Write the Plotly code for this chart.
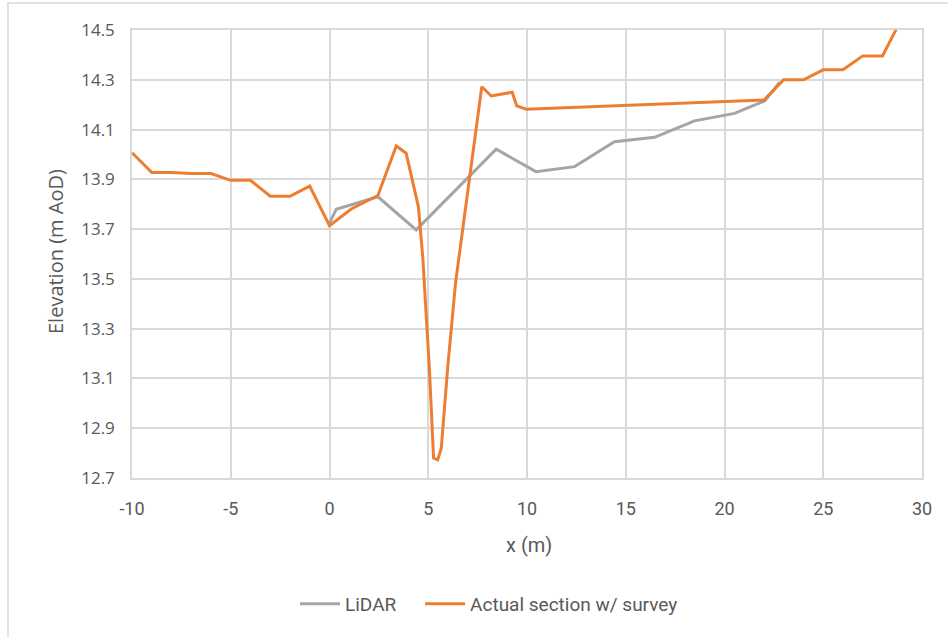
import plotly.graph_objects as go

# LiDAR section
lidar_x = [0.0, 0.34, 2.45, 4.39, 8.44, 10.45, 12.41, 14.43, 16.46, 18.48, 20.51, 22.03, 22.8]
lidar_y = [13.724, 13.78, 13.83, 13.697, 14.021, 13.931, 13.951, 14.051, 14.069, 14.135, 14.165, 14.215, 14.29]

# Actual section with survey
survey_x = [-10.0, -9.0, -8.0, -7.0, -6.0, -5.0, -4.0, -3.0, -2.0, -1.0, 0.0, 1.1, 2.45,
            3.38, 3.88, 4.5, 4.72, 5.06, 5.27, 5.48, 5.66, 5.99, 6.38, 7.71, 8.19, 9.25,
            9.48, 9.96, 22.0, 23.0, 24.0, 25.0, 26.0, 27.0, 28.0, 29.0]
survey_y = [14.007, 13.927, 13.927, 13.923, 13.923, 13.896, 13.896, 13.832, 13.832, 13.873,
            13.714, 13.781, 13.835, 14.034, 14.005, 13.79, 13.59, 13.135, 12.78, 12.773,
            12.82, 13.148, 13.483, 14.272, 14.235, 14.25, 14.195, 14.182, 14.219, 14.30,
            14.30, 14.34, 14.34, 14.396, 14.396, 14.55]

x_ticks = [-10, -5, 0, 5, 10, 15, 20, 25, 30]
x_tick_labels = ["-10", "-5", "0", "5", "10", "15", "20", "25", "30"]
y_ticks = [12.7, 12.9, 13.1, 13.3, 13.5, 13.7, 13.9, 14.1, 14.3, 14.5]

GRID = "#D9D9D9"
TXT = "#595959"
NARROW = "Liberation Sans Narrow, Roboto, sans-serif"
WIDE = "Open Sans, sans-serif"

fig = go.Figure()
fig.add_trace(go.Scatter(x=lidar_x, y=lidar_y, mode="lines", name="LiDAR\u00a0\u00a0\u00a0\u00a0",
                         line=dict(color="#A5A5A5", width=3)))
fig.add_trace(go.Scatter(x=survey_x, y=survey_y, mode="lines", name="Actual section w/ survey",
                         line=dict(color="#ED7D31", width=3)))

fig.update_layout(
    width=948, height=637,
    margin=dict(l=132, r=26, t=30, b=159),
    paper_bgcolor="white", plot_bgcolor="white",
    showlegend=True,
    legend=dict(orientation="h", x=(489 - 132) / 790, y=-0.281, xanchor="center", yanchor="middle",
                font=dict(family=NARROW, size=19, color=TXT), itemwidth=40,
                traceorder="normal"),
    xaxis=dict(range=[-10, 30], tickvals=x_ticks, ticktext=x_tick_labels, showgrid=True,
               gridcolor=GRID, gridwidth=1.5,
               zeroline=False, showline=True, linecolor=GRID, linewidth=1.5, mirror=True,
               ticks="", ticklabelstandoff=14,
               tickfont=dict(family=NARROW, size=18, color=TXT)),
    yaxis=dict(range=[12.7, 14.5], tickvals=y_ticks, tickformat=".1f", showgrid=True,
               gridcolor=GRID, gridwidth=1.5, zeroline=False, showline=True, linecolor=GRID,
               linewidth=1.5, mirror=True, ticks="", ticklabelstandoff=12,
               tickfont=dict(family=WIDE, size=17, color=TXT)),
    annotations=[
        dict(text="x (m)", xref="paper", yref="paper", x=(529 - 132) / 790, y=(478 - 545) / 448,
             showarrow=False, xanchor="center", yanchor="middle",
             font=dict(family=NARROW, size=20, color=TXT)),
        dict(text="Elevation (m AoD)", xref="paper", yref="paper", x=(55 - 132) / 790,
             y=(478 - 252) / 448, showarrow=False, xanchor="center", yanchor="middle",
             textangle=-90, font=dict(family=WIDE, size=20, color=TXT)),
    ],
    shapes=[dict(type="rect", xref="paper", yref="paper",
                 x0=(8 - 132) / 790, x1=(952 - 132) / 790,
                 y0=(478 - 645) / 448, y1=(478 - 3) / 448,
                 line=dict(color=GRID, width=1.5), layer="below")],
)

fig.write_html("out.html")
